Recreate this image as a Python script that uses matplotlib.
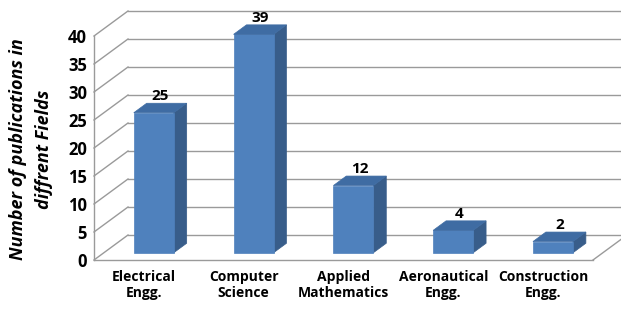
import matplotlib
matplotlib.use("Agg")
import matplotlib.pyplot as plt
from matplotlib.patches import Polygon, Rectangle

categories = ["Electrical\nEngg.", "Computer\nScience", "Applied\nMathematics",
              "Aeronautical\nEngg.", "Construction\nEngg."]
counts = [25, 39, 12, 4, 2]
yticks = [0, 5, 10, 15, 20, 25, 30, 35, 40]

FRONT = "#4F81BD"
SIDE = "#385D8A"
TOP = "#3F6CA3"
GRID = "#9A9A9A"

plt.rcParams["font.family"] = ["Open Sans", "DejaVu Sans"]

W, H = 621, 310
fig = plt.figure(figsize=(W / 100, H / 100), dpi=100)
# front plane of the 3d box, in pixels
left, right, bottom, top = 94, 593, 260, 36
ax = fig.add_axes([left / W, (H - bottom) / H, (right - left) / W, (bottom - top) / H])
ax.set_xlim(-0.5, len(counts) - 0.5)
ax.set_ylim(0, 40)
for s in ax.spines.values():
    s.set_visible(False)
ax.patch.set_alpha(0)

# pixel -> data unit conversion
px_x = (right - left) / len(counts)
px_y = (bottom - top) / 40.0
# depth of the whole box and of the bars
dX, dY = 34 / px_x, 25 / px_y
bar_off = 0.29
bar_depth = 0.38
bar_w = 40 / px_x

gk = dict(color=GRID, lw=1.0, clip_on=False, zorder=1)
x0 = -0.5
x1 = len(counts) - 0.5
for v in yticks:
    # left wall diagonal and back wall line
    ax.plot([x0, x0 + dX], [v, v + dY], **gk)
    ax.plot([x0 + dX, x1 + dX + 1], [v + dY, v + dY], **gk)
# left wall front edge, floor front and right edge
ax.plot([x0, x0], [0, 40], **gk)
ax.plot([x0, x1], [0, 0], **gk)
ax.plot([x1, x1 + dX], [0, dY], **gk)

for i, v in enumerate(counts):
    xl = i - bar_w / 2 + bar_off * dX
    xr = xl + bar_w
    yb = bar_off * dY
    bx, by = bar_depth * dX, bar_depth * dY
    side = Polygon([(xr, yb), (xr + bx, yb + by), (xr + bx, yb + v + by), (xr, yb + v)],
                   closed=True, fc=SIDE, ec=SIDE, lw=0.5, zorder=3, clip_on=False)
    ax.add_patch(side)
    ax.add_patch(Rectangle((xl, yb), bar_w, v, fc=FRONT, ec=FRONT, lw=0.5,
                           zorder=4, clip_on=False))
    topf = Polygon([(xl, yb + v), (xr, yb + v), (xr + bx, yb + v + by), (xl + bx, yb + v + by)],
                   closed=True, fc=TOP, ec=TOP, lw=0.5, zorder=4, clip_on=False)
    ax.add_patch(topf)
    ax.annotate(str(v), (xl + bar_w / 2 + bx / 2, yb + v + by), xytext=(0, 0),
                textcoords="offset points", ha="center", va="bottom",
                fontsize=11, fontweight="bold", color="black", zorder=5,
                annotation_clip=False)

ax.set_xticks(range(len(counts)))
ax.set_xticklabels(categories, fontsize=10, fontweight="bold", linespacing=1.25)
ax.set_yticks(yticks)
ax.set_yticklabels([str(t) for t in yticks], fontsize=12, fontweight="bold")
ax.tick_params(axis="x", length=0, pad=7)
ax.tick_params(axis="y", length=0, pad=5)

fig.text(31 / W, 1 - 149 / H, "Number of publications in\ndiffrent Fields",
         rotation=90, ha="center", va="center", fontsize=13,
         fontweight="bold", fontstyle="italic", linespacing=1.55)

fig.savefig("out.png", dpi=100)
